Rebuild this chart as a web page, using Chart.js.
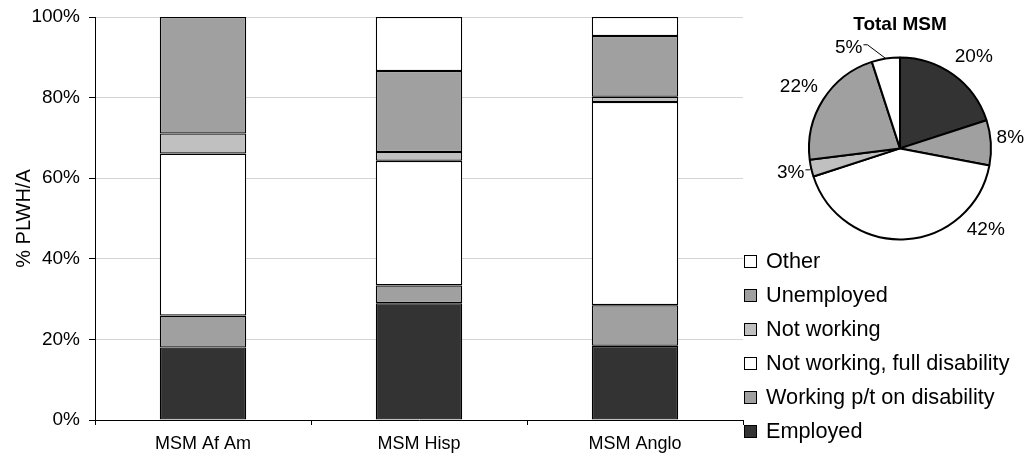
<!DOCTYPE html>
<html>
<head>
<meta charset="utf-8">
<script src="https://cdn.jsdelivr.net/npm/chart.js@4/dist/chart.umd.min.js"></script>
<style>
  html, body { margin: 0; padding: 0; background: #fff; }
  body { width: 1024px; height: 464px; position: relative; overflow: hidden; font-family: "Liberation Sans", Arial, sans-serif; }
  #barWrap { position: absolute; left: 0; top: 0; width: 1024px; height: 464px; }
  #pieWrap { position: absolute; left: 770px; top: 0; width: 254px; height: 260px; }
  #legend { position: absolute; left: 744px; top: 244px; }
  .leg-item { display: flex; align-items: center; height: 34px; font-size: 21.7px; color: #000; white-space: nowrap; }
  .leg-box { width: 11px; height: 11px; border: 1.5px solid #000; margin-right: 9px; }
</style>
</head>
<body>
<div id="barWrap"><canvas id="barChart"></canvas></div>
<div id="pieWrap"><canvas id="pieChart"></canvas></div>
<div id="legend"></div>

<script>
// --- VERİLER ---
const groups = ["MSM Af Am", "MSM Hisp", "MSM Anglo"];
const seriesNames = ["Employed", "Working p/t on disability", "Not working, full disability", "Not working", "Unemployed", "Other"];
const employed = [18, 29, 18.4];
const workingPt = [7.9, 4.4, 10.1];
const fullDisability = [40.2, 30.9, 50.4];
const notWorking = [5, 2.2, 1.3];
const unemployed = [28.9, 20.1, 15.1];
const other = [0, 13.4, 4.7];
const yTicks = [0, 20, 40, 60, 80, 100];

// pasta: Total MSM
const pieTitle = "Total MSM";
const pieValues = [20, 8, 42, 3, 22, 5];

// --- STİL ---
const fills = ["#333333", "#a0a0a0", "#ffffff", "#c0c0c0", "#a0a0a0", "#ffffff"];
const fontFam = '"Liberation Sans", Arial, sans-serif';
const pieLabelTurn = [3, -2, -43, 0, -1, -18]; // derece, Excel yerleşimine benzetmek için

const seriesValues = [employed, workingPt, fullDisability, notWorking, unemployed, other];

// --- BAR GRAFİK ---
new Chart(document.getElementById('barChart'), {
    type: 'bar',
    data: {
        labels: groups,
        datasets: seriesNames.map((name, i) => ({
            label: name,
            data: seriesValues[i],
            backgroundColor: fills[i],
            borderColor: '#000',
            borderWidth: 1.3,
            borderSkipped: false,
            barPercentage: 0.4,
            categoryPercentage: 1
        }))
    },
    options: {
        responsive: true,
        maintainAspectRatio: false,
        animation: false,
        layout: { padding: { left: 0, right: 281, top: 17, bottom: 0 } },
        plugins: { legend: { display: false }, tooltip: { enabled: false } },
        scales: {
            x: {
                stacked: true,
                grid: { drawOnChartArea: false, tickLength: 5, color: '#000', offset: true },
                border: { color: '#000', width: 1 },
                ticks: { color: '#000', font: { family: fontFam, size: 18 }, padding: 8, maxRotation: 0 },
                afterFit: (s) => { s.height = 44; }
            },
            y: {
                stacked: true,
                min: 0,
                max: 100,
                afterBuildTicks: (s) => { s.ticks = yTicks.map(v => ({ value: v })); },
                ticks: { color: '#000', font: { family: fontFam, size: 19 }, padding: 9, callback: v => v + '%' },
                grid: { color: '#d4d4d4', tickColor: '#000', tickLength: 6 },
                border: { color: '#000', width: 1 },
                title: { display: true, text: '% PLWH/A', color: '#000', font: { family: fontFam, size: 20 }, padding: { top: 12, bottom: 0 } },
                afterFit: (s) => { s.width = 95; s.paddingTop = 0; s.paddingBottom = 0; }
            }
        }
    }
});

// --- PASTA ETİKETLERİ ---
const pieLabels = {
    id: 'pieLabels',
    afterDatasetsDraw(chart) {
        const ctx = chart.ctx;
        const arcs = chart.getDatasetMeta(0).data;
        ctx.save();
        ctx.font = '19px ' + fontFam;
        ctx.fillStyle = '#000';
        ctx.strokeStyle = '#000';
        ctx.lineWidth = 1;
        ctx.textAlign = 'center';
        ctx.textBaseline = 'middle';
        arcs.forEach((arc, i) => {
            const p = arc.getProps(['x', 'y', 'startAngle', 'endAngle', 'outerRadius'], true);
            const mid = (p.startAngle + p.endAngle) / 2;
            const a = mid + pieLabelTurn[i] * Math.PI / 180;
            const txt = pieValues[i] + '%';
            const hw = ctx.measureText(txt).width / 2;
            const hh = 12;
            const cos = Math.cos(a), sin = Math.sin(a);
            const d = p.outerRadius + 5 + Math.abs(cos) * hw + Math.abs(sin) * hh;
            const lx = p.x + cos * d;
            const ly = p.y + sin * d;
            ctx.fillText(txt, lx, ly);
            // küçük dilimler için çizgi
            if (pieValues[i] <= 5) {
                const ax = p.x + Math.cos(mid) * p.outerRadius;
                const ay = p.y + Math.sin(mid) * p.outerRadius;
                const ex = ax > lx ? lx + hw + 1 : lx - hw - 1;
                ctx.beginPath();
                ctx.moveTo(ex, ly - 3);
                ctx.lineTo(ex + (ax > lx ? 4 : -4), ly - 3);
                ctx.lineTo(ax, ay);
                ctx.stroke();
            }
        });
        ctx.restore();
    }
};

// --- PASTA GRAFİK ---
new Chart(document.getElementById('pieChart'), {
    type: 'pie',
    data: {
        labels: seriesNames,
        datasets: [{
            data: pieValues,
            backgroundColor: fills,
            borderColor: '#000',
            borderWidth: 2,
            radius: 91
        }]
    },
    options: {
        responsive: true,
        maintainAspectRatio: false,
        animation: false,
        layout: { padding: { left: 10, right: 4, top: 0, bottom: 9 } },
        plugins: {
            legend: { display: false },
            tooltip: { enabled: false },
            title: { display: true, text: pieTitle, color: '#000', font: { family: fontFam, size: 19, weight: 'bold' }, padding: { top: 13, bottom: 10 } }
        }
    },
    plugins: [pieLabels]
});

// --- LEJANT ---
const legendDiv = document.getElementById('legend');
for (let i = seriesNames.length - 1; i >= 0; i--) {
    legendDiv.innerHTML += `
        <div class="leg-item">
            <span class="leg-box" style="background:${fills[i]}"></span>
            <span>${seriesNames[i]}</span>
        </div>`;
}
</script>
</body>
</html>
